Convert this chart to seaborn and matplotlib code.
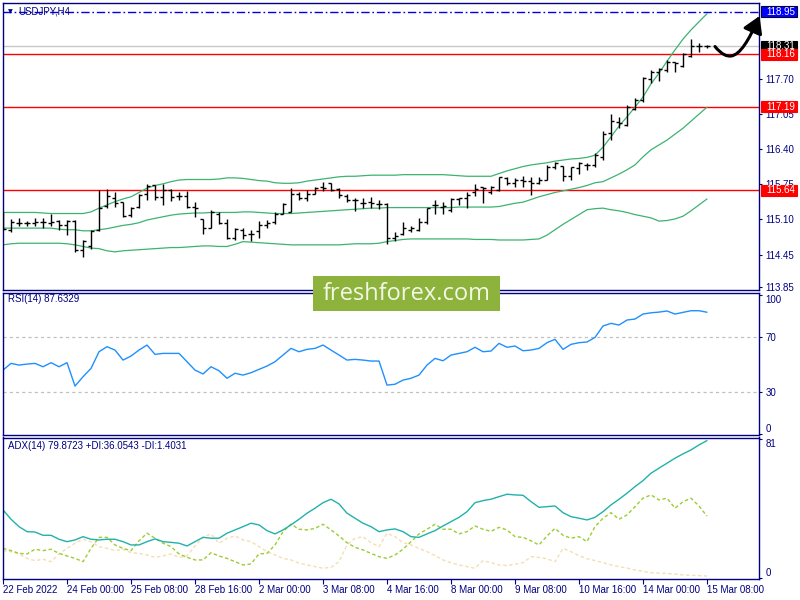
import matplotlib
matplotlib.use("Agg")
import matplotlib.pyplot as plt
import matplotlib.transforms as mtransforms
from matplotlib.patches import Rectangle, FancyArrowPatch
from matplotlib.path import Path
import numpy as np
import pandas as pd
import seaborn as sns

# --- data (89 bars) ---
time_labels = ['22 Feb 2022', '24 Feb 00:00', '25 Feb 08:00', '28 Feb 16:00', '2 Mar 00:00',
               '3 Mar 08:00', '4 Mar 16:00', '8 Mar 00:00', '9 Mar 08:00', '10 Mar 16:00',
               '14 Mar 00:00', '15 Mar 08:00']

bar_open = [115.16, 114.90, 115.03, 115.03, 115.04, 115.06, 115.03, 115.08, 115.00, 115.08,
            114.53, 114.60, 114.90, 115.35, 115.50, 115.43, 115.18, 115.33, 115.58, 115.73,
            115.52, 115.65, 115.53, 115.53, 115.33, 115.10, 114.95, 115.21, 115.04, 114.75,
            114.91, 114.84, 114.89, 115.00, 115.05, 115.20, 115.23, 115.58, 115.49, 115.58,
            115.70, 115.77, 115.66, 115.54, 115.46, 115.40, 115.43, 115.38, 115.38, 114.76,
            114.84, 114.91, 114.91, 115.05, 115.36, 115.34, 115.28, 115.48, 115.49, 115.61,
            115.70, 115.60, 115.65, 115.86, 115.77, 115.83, 115.82, 115.77, 115.83, 116.08,
            116.09, 115.90, 116.05, 116.11, 116.11, 116.26, 116.70, 116.91, 116.85, 117.15,
            117.31, 117.70, 117.83, 117.87, 118.02, 117.94, 118.13, 118.31, 118.31]
bar_high = [115.24, 115.10, 115.12, 115.08, 115.12, 115.13, 115.21, 115.09, 115.09, 115.09,
            114.72, 114.90, 115.65, 115.66, 115.61, 115.43, 115.33, 115.57, 115.76, 115.74,
            115.75, 115.66, 115.61, 115.63, 115.42, 115.11, 115.28, 115.23, 115.10, 114.94,
            114.94, 114.91, 115.07, 115.09, 115.24, 115.40, 115.68, 115.61, 115.65, 115.71,
            115.80, 115.77, 115.68, 115.57, 115.49, 115.49, 115.51, 115.46, 115.40, 114.87,
            115.05, 114.97, 115.12, 115.32, 115.46, 115.42, 115.49, 115.50, 115.61, 115.76,
            115.71, 115.72, 115.89, 115.88, 115.86, 115.90, 115.88, 115.88, 116.11, 116.17,
            116.09, 116.08, 116.17, 116.15, 116.33, 116.73, 117.05, 116.99, 117.22, 117.35,
            117.74, 117.87, 117.90, 118.05, 118.02, 118.18, 118.44, 118.37, 118.33]
bar_low = [114.90, 114.86, 114.97, 114.98, 114.98, 114.95, 114.98, 114.91, 114.81, 114.50,
           114.40, 114.56, 114.89, 115.31, 115.34, 115.15, 115.15, 115.31, 115.46, 115.46,
           115.37, 115.45, 115.46, 115.31, 115.15, 114.84, 114.95, 115.02, 114.73, 114.72,
           114.74, 114.70, 114.76, 114.95, 115.01, 115.20, 115.23, 115.46, 115.44, 115.57,
           115.63, 115.63, 115.49, 115.42, 115.26, 115.31, 115.32, 115.29, 114.64, 114.70,
           114.81, 114.87, 114.89, 115.01, 115.20, 115.21, 115.24, 115.37, 115.32, 115.53,
           115.40, 115.58, 115.63, 115.74, 115.70, 115.70, 115.55, 115.76, 115.83, 116.03,
           115.82, 115.83, 115.94, 116.02, 116.08, 116.21, 116.57, 116.79, 116.83, 117.13,
           117.28, 117.63, 117.66, 117.83, 117.83, 117.92, 118.11, 118.20, 118.28]
bar_close = [114.92, 115.06, 115.04, 115.03, 115.06, 115.05, 115.06, 115.00, 115.07, 114.53,
             114.70, 114.89, 115.31, 115.53, 115.40, 115.17, 115.31, 115.55, 115.72, 115.52,
             115.65, 115.52, 115.53, 115.33, 115.31, 114.94, 115.24, 115.04, 114.75, 114.92,
             114.81, 114.83, 115.00, 115.03, 115.20, 115.38, 115.58, 115.49, 115.57, 115.68,
             115.68, 115.65, 115.55, 115.46, 115.46, 115.40, 115.40, 115.38, 114.76, 114.80,
             114.95, 114.95, 115.06, 115.32, 115.37, 115.35, 115.48, 115.49, 115.56, 115.66,
             115.68, 115.70, 115.88, 115.77, 115.83, 115.82, 115.77, 115.84, 116.08, 116.14,
             115.90, 116.07, 116.14, 116.11, 116.29, 116.68, 116.93, 116.88, 117.19, 117.31,
             117.72, 117.83, 117.89, 118.02, 118.00, 118.16, 118.31, 118.31, 118.31]

bb_upper = [115.23, 115.23, 115.23, 115.23, 115.23, 115.22, 115.21, 115.21, 115.21, 115.21,
            115.21, 115.24, 115.31, 115.37, 115.43, 115.48, 115.52, 115.60, 115.68, 115.73,
            115.76, 115.80, 115.83, 115.84, 115.84, 115.84, 115.84, 115.85, 115.87, 115.87,
            115.86, 115.84, 115.82, 115.81, 115.78, 115.77, 115.77, 115.78, 115.81, 115.83,
            115.85, 115.87, 115.89, 115.90, 115.90, 115.91, 115.92, 115.92, 115.92, 115.92,
            115.93, 115.93, 115.93, 115.93, 115.93, 115.93, 115.92, 115.91, 115.90, 115.90,
            115.90, 115.90, 115.95, 116.00, 116.04, 116.08, 116.11, 116.13, 116.15, 116.18,
            116.20, 116.22, 116.23, 116.25, 116.29, 116.44, 116.63, 116.83, 117.00, 117.18,
            117.37, 117.61, 117.81, 118.03, 118.24, 118.44, 118.61, 118.76, 118.91]
bb_middle = [114.94, 114.94, 114.94, 114.94, 114.94, 114.94, 114.94, 114.92, 114.91, 114.91,
             114.89, 114.89, 114.91, 114.93, 114.96, 114.99, 115.01, 115.04, 115.09, 115.12,
             115.15, 115.18, 115.20, 115.21, 115.22, 115.22, 115.23, 115.23, 115.23, 115.23,
             115.24, 115.24, 115.23, 115.22, 115.21, 115.21, 115.21, 115.22, 115.23, 115.24,
             115.25, 115.26, 115.27, 115.28, 115.29, 115.30, 115.31, 115.31, 115.32, 115.32,
             115.32, 115.32, 115.32, 115.32, 115.32, 115.32, 115.32, 115.33, 115.33, 115.33,
             115.33, 115.33, 115.34, 115.37, 115.40, 115.42, 115.47, 115.52, 115.56, 115.60,
             115.63, 115.66, 115.69, 115.73, 115.78, 115.80, 115.87, 115.94, 116.02, 116.11,
             116.26, 116.39, 116.48, 116.57, 116.68, 116.79, 116.92, 117.05, 117.18]
bb_lower = [114.63, 114.65, 114.66, 114.66, 114.66, 114.66, 114.66, 114.66, 114.65, 114.63,
            114.60, 114.57, 114.56, 114.52, 114.50, 114.52, 114.53, 114.54, 114.55, 114.56,
            114.57, 114.58, 114.58, 114.59, 114.60, 114.61, 114.61, 114.60, 114.60, 114.64,
            114.69, 114.68, 114.67, 114.66, 114.65, 114.64, 114.63, 114.63, 114.63, 114.63,
            114.63, 114.63, 114.63, 114.64, 114.65, 114.65, 114.65, 114.66, 114.69, 114.71,
            114.73, 114.74, 114.74, 114.74, 114.74, 114.74, 114.74, 114.74, 114.74, 114.73,
            114.73, 114.73, 114.72, 114.72, 114.72, 114.72, 114.73, 114.74, 114.81, 114.91,
            115.01, 115.10, 115.19, 115.28, 115.30, 115.31, 115.28, 115.26, 115.23, 115.19,
            115.16, 115.13, 115.07, 115.08, 115.11, 115.16, 115.26, 115.37, 115.48]

rsi = [46.0, 50.8, 49.6, 50.3, 50.8, 48.4, 51.3, 48.4, 51.3, 34.5,
       41.2, 47.2, 59.2, 62.8, 60.4, 53.2, 56.1, 60.4, 64.0, 57.3,
       58.0, 58.0, 58.0, 52.0, 46.0, 43.2, 48.4, 45.5, 40.1, 43.7,
       42.4, 44.1, 46.5, 48.9, 52.0, 56.8, 61.6, 59.2, 60.9, 61.6,
       64.0, 60.4, 56.8, 53.2, 53.7, 53.2, 52.5, 52.5, 35.2, 35.8,
       38.8, 40.1, 42.4, 49.6, 54.4, 52.7, 56.8, 58.0, 59.2, 62.4,
       59.2, 59.7, 65.2, 62.4, 63.3, 59.9, 60.4, 61.6, 65.7, 68.1,
       60.9, 64.5, 65.7, 66.2, 69.5, 77.7, 79.6, 78.4, 82.0, 82.7,
       86.3, 87.2, 87.7, 88.5, 86.3, 87.5, 88.7, 88.7, 87.6]

adx = [39.7, 34.3, 30.0, 27.1, 26.9, 25.0, 25.0, 22.7, 21.3, 22.3,
       24.2, 22.7, 22.3, 22.7, 22.7, 21.3, 19.4, 19.4, 21.3, 22.9,
       21.3, 20.9, 20.4, 18.8, 21.3, 23.8, 23.3, 23.3, 26.2, 28.1,
       30.0, 32.0, 31.0, 27.7, 25.8, 28.1, 31.0, 34.3, 37.8, 40.7,
       43.9, 45.9, 43.2, 37.8, 34.9, 32.0, 30.0, 27.1, 28.1, 28.7,
       27.1, 24.2, 23.8, 25.8, 27.7, 30.4, 32.9, 35.4, 38.7, 43.9,
       45.1, 45.9, 47.4, 48.8, 48.4, 48.2, 44.5, 41.2, 41.6, 42.0,
       38.1, 35.8, 34.9, 33.9, 35.4, 38.7, 42.6, 45.9, 49.4, 53.2,
       56.7, 61.0, 63.9, 66.8, 69.7, 72.2, 74.5, 77.4, 79.9]
plus_di = [17.4, 16.1, 14.5, 14.2, 16.9, 16.1, 16.9, 14.5, 13.0, 11.6,
           9.7, 17.4, 23.8, 23.8, 19.4, 17.4, 16.1, 21.8, 26.2, 23.3,
           20.4, 18.4, 14.2, 12.2, 10.7, 10.7, 14.9, 13.0, 11.6, 9.7,
           7.8, 8.4, 14.2, 14.5, 19.4, 27.1, 31.5, 28.5, 28.1, 29.0,
           31.4, 28.1, 24.6, 20.7, 18.0, 16.5, 14.5, 12.6, 11.6, 13.6,
           16.9, 21.3, 25.8, 28.5, 31.4, 28.5, 28.5, 25.8, 27.1, 30.4,
           28.5, 27.3, 29.6, 28.1, 24.2, 23.8, 21.8, 19.4, 24.6, 29.0,
           25.0, 23.3, 24.2, 21.3, 30.0, 34.9, 38.1, 34.3, 36.8, 41.6,
           46.5, 48.4, 45.5, 46.5, 40.7, 44.5, 46.5, 42.0, 36.1]
minus_di = [16.1, 15.5, 14.2, 11.6, 10.3, 11.1, 9.7, 14.2, 17.4, 20.4,
            22.7, 21.3, 18.4, 17.4, 16.1, 16.9, 14.9, 14.5, 13.6, 12.2,
            13.0, 14.2, 12.2, 13.0, 18.8, 23.8, 25.8, 20.4, 23.3, 24.6,
            22.3, 21.3, 18.4, 15.5, 13.6, 11.6, 10.7, 8.8, 7.8, 6.8,
            5.9, 6.4, 9.7, 19.4, 23.3, 24.2, 20.7, 18.4, 26.2, 24.2,
            20.7, 19.4, 17.4, 15.5, 13.2, 10.7, 9.1, 7.8, 6.8, 5.9,
            10.3, 9.1, 7.8, 7.5, 8.2, 9.1, 12.6, 12.2, 11.3, 9.7,
            17.4, 15.5, 13.2, 11.4, 10.3, 9.1, 7.8, 6.8, 6.0, 4.9,
            4.1, 3.3, 3.1, 2.9, 2.5, 2.0, 1.8, 1.6, 1.4]

price_ticks = [113.85, 114.45, 115.10, 115.75, 116.40, 117.05, 117.70]
red_levels = [118.16, 117.19, 115.64]
target_level = 118.95
bid_price = 118.31

df = pd.DataFrame({'bar': np.arange(len(bar_close)), 'open': bar_open, 'high': bar_high,
                   'low': bar_low, 'close': bar_close, 'upper': bb_upper, 'middle': bb_middle,
                   'lower': bb_lower, 'rsi': rsi, 'adx': adx, 'plus_di': plus_di,
                   'minus_di': minus_di})

sns.set_theme(style="white")
plt.rcParams['font.family'] = ['Liberation Sans', 'DejaVu Sans']

NAVY = '#000080'
BB = '#3cb371'
W, H = 800, 600


def fx(px):
    return px / W


def fy(py):
    return 1 - py / H


fig = plt.figure(figsize=(8, 6), dpi=100, facecolor='white')
left, right = fx(2.7), fx(759)
ax = fig.add_axes([left, fy(290), right - left, fy(2.7) - fy(290)])
ax_rsi = fig.add_axes([left, fy(435), right - left, fy(292.5) - fy(435)])
ax_adx = fig.add_axes([left, fy(579), right - left, fy(437.5) - fy(579)])

for a in (ax, ax_rsi, ax_adx):
    a.set_facecolor('white')
    a.set_xlim(-0.04, 94.5)
    for s in a.spines.values():
        s.set_color(NAVY)
        s.set_linewidth(1.0)
    a.yaxis.tick_right()
    a.tick_params(axis='y', which='both', right=True, left=False, direction='out',
                  length=2.5, width=0.8, color=NAVY, labelcolor=NAVY, labelsize=7, pad=2)
    a.tick_params(axis='x', bottom=False, labelbottom=False)

# ---- main price panel ----
ax.set_ylim(113.794, 119.114)
ax.axhline(bid_price, color='#c8c8c8', lw=1.0, zorder=0.5)
for lv in red_levels:
    ax.axhline(lv, color='red', lw=1.0, zorder=1)
ax.axhline(target_level, color='#0000e6', lw=1.0, ls=(0, (6, 2, 1.2, 2)), zorder=1)

for col in ['upper', 'middle', 'lower']:
    sns.lineplot(data=df, x='bar', y=col, color=BB, lw=0.9, ax=ax, zorder=2)

ax.vlines(df['bar'], df['low'], df['high'], color='black', lw=1.0, zorder=3)
ax.hlines(df['open'], df['bar'] - 0.42, df['bar'], color='black', lw=1.0, zorder=3)
ax.hlines(df['close'], df['bar'], df['bar'] + 0.42, color='black', lw=1.0, zorder=3)

ax.set_yticks(price_ticks)
ax.set_yticklabels([f'{p:.2f}' for p in price_ticks])
ax.set_xlabel('')
ax.set_ylabel('')

box_tr = mtransforms.blended_transform_factory(ax.transAxes, ax.transData)
box_h = 11 / 54.0


def price_box(val, fc, ec):
    ax.add_patch(Rectangle((1.0026, val - box_h / 2), 0.0476, box_h, transform=box_tr,
                           fc=fc, ec=ec, lw=0.8, clip_on=False, zorder=6))
    ax.text(1.0093, val, f'{val:.2f}', transform=box_tr, color='white', fontsize=7,
            va='center', ha='left', zorder=7, clip_on=False)


price_box(target_level, '#0000ff', '#000030')
price_box(bid_price, 'black', 'black')
for lv in red_levels:
    price_box(lv, 'red', 'red')

ax.text(0.0205, 0.971, 'USDJPY,H4', transform=ax.transAxes, color=NAVY, fontsize=7,
        va='center', ha='left', zorder=8)
ax.text(0.0075, 0.969, '\u25bc', transform=ax.transAxes, color=NAVY, fontsize=4.5,
        va='center', ha='left', family='DejaVu Sans', zorder=8)

# ---- RSI panel ----
ax_rsi.set_ylim(-0.7, 101.8)
for lv in [70, 30]:
    ax_rsi.axhline(lv, color='#c0c0c0', lw=0.9, ls=(0, (2.5, 2.5)))
sns.lineplot(data=df, x='bar', y='rsi', color='#1e90ff', lw=1.0, ax=ax_rsi)
ax_rsi.set_yticks([0, 30, 70, 100])
ax_rsi.set_yticklabels(['0', '30', '70', '100'])
lbls = ax_rsi.get_yticklabels()
lbls[0].set_va('bottom')
lbls[-1].set_va('top')
ax_rsi.set_xlabel('')
ax_rsi.set_ylabel('')
ax_rsi.text(0.007, 0.954, 'RSI(14) 87.6329', transform=ax_rsi.transAxes, color=NAVY,
            fontsize=7, va='center', ha='left')

# ---- ADX panel ----
ax_adx.set_ylim(-0.35, 81.7)
sns.lineplot(data=df, x='bar', y='minus_di', color='#f5deb3', lw=1.0,
             ls=(0, (2.5, 1.8)), ax=ax_adx)
sns.lineplot(data=df, x='bar', y='plus_di', color='#9acd32', lw=1.0,
             ls=(0, (2.5, 1.8)), ax=ax_adx)
sns.lineplot(data=df, x='bar', y='adx', color='#20b2aa', lw=1.0, ax=ax_adx)
ax_adx.set_yticks([0, 81])
ax_adx.set_yticklabels(['0', '81'])
lbls = ax_adx.get_yticklabels()
lbls[0].set_va('bottom')
lbls[-1].set_va('top')
ax_adx.set_xlabel('')
ax_adx.set_ylabel('')
ax_adx.text(0.007, 0.94, 'ADX(14) 79.8723 +DI:36.0543 -DI:1.4031', transform=ax_adx.transAxes,
            color=NAVY, fontsize=7, va='center', ha='left')

ax_adx.set_xticks(range(0, len(bar_close), 8))
ax_adx.set_xticklabels(time_labels)
ax_adx.tick_params(axis='x', bottom=True, labelbottom=True, direction='out', length=3.6,
                   width=0.8, color=NAVY, labelcolor=NAVY, labelsize=7, pad=0.5)
for t in ax_adx.get_xticklabels():
    t.set_ha('left')

# ---- forecast arrow ----
arrow_path = Path([(fx(715), fy(46.5)), (fx(722), fy(55)), (fx(727), fy(56.5)), (fx(731), fy(56)),
                   (fx(740), fy(55)), (fx(749), fy(40)), (fx(759.5), fy(16))],
                  [Path.MOVETO, Path.CURVE4, Path.CURVE4, Path.CURVE4,
                   Path.CURVE4, Path.CURVE4, Path.CURVE4])
arrow = FancyArrowPatch(path=arrow_path, arrowstyle='-|>,head_length=0.9,head_width=0.55',
                        mutation_scale=11, color='black', lw=2.2, transform=fig.transFigure,
                        zorder=12)
fig.add_artist(arrow)

# ---- watermark ----
fig.add_artist(Rectangle((fx(313), fy(311)), fx(500) - fx(313), fy(276) - fy(311),
                         transform=fig.transFigure, fc='#8db33c', ec='none', zorder=10))
fig.text(fx(406.5), fy(293.5), 'freshforex.com', color='#f3f8e6', fontsize=17,
         ha='center', va='center', family='Open Sans', zorder=11)

fig.savefig('out.png', dpi=100, facecolor='white')
